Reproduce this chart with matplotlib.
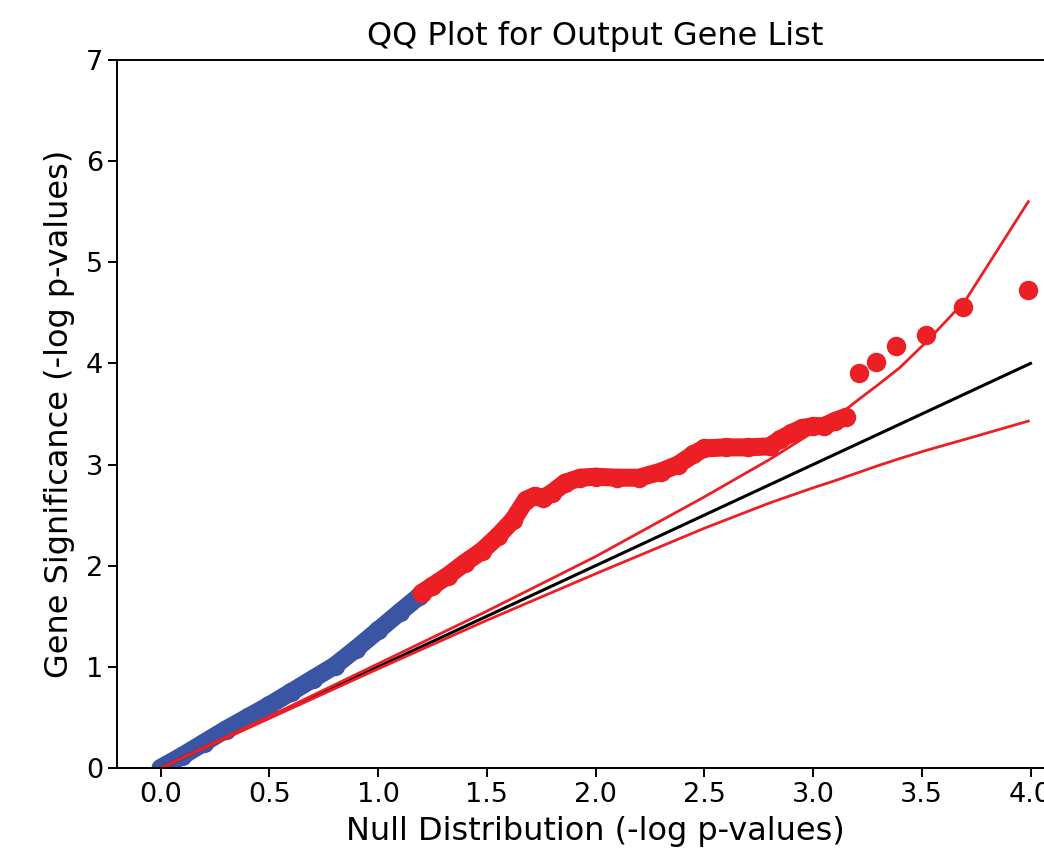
import matplotlib
matplotlib.use("Agg")
import matplotlib.pyplot as plt

blue_x = [0.0, 0.1, 0.2, 0.3, 0.4, 0.5, 0.6, 0.7, 0.8, 0.9, 1.0, 1.1, 1.19]
blue_y = [0.0, 0.12, 0.25, 0.38, 0.50, 0.62, 0.75, 0.88, 1.01, 1.18, 1.36, 1.54, 1.70]

red_x = [1.20, 1.25, 1.32, 1.40, 1.48, 1.55, 1.62, 1.68, 1.72, 1.76, 1.80, 1.86, 1.93,
         2.00, 2.10, 2.20, 2.30, 2.38, 2.45, 2.50, 2.60, 2.70, 2.80, 2.85, 2.90, 2.95,
         3.00, 3.05, 3.10, 3.15]
red_y = [1.73, 1.80, 1.90, 2.03, 2.15, 2.29, 2.45, 2.65, 2.69, 2.67, 2.72, 2.82, 2.87,
         2.88, 2.87, 2.87, 2.93, 3.00, 3.10, 3.16, 3.17, 3.17, 3.18, 3.25, 3.31, 3.36,
         3.38, 3.38, 3.43, 3.47]

top_x = [3.21, 3.29, 3.38, 3.52, 3.69, 3.99]
top_y = [3.91, 4.01, 4.17, 4.28, 4.56, 4.73]

# null line and confidence band
null_x = [0.0, 4.0]
null_y = [0.0, 4.0]
ci_x = [0.0, 0.5, 1.0, 1.5, 2.0, 2.5, 2.8, 3.0, 3.1, 3.22, 3.3, 3.4, 3.52, 3.7, 3.99]
ci_upper = [0.0, 0.51, 1.03, 1.55, 2.09, 2.68, 3.05, 3.32, 3.46, 3.66, 3.79, 3.96, 4.21, 4.62, 5.60]
ci_lower = [0.0, 0.49, 0.98, 1.46, 1.92, 2.37, 2.62, 2.77, 2.84, 2.93, 2.99, 3.06, 3.14, 3.25, 3.43]

blue = '#3a55a4'
red = '#ec1f25'

fig = plt.figure(figsize=(10.44, 8.63), dpi=100)
ax = fig.add_axes([117 / 1044, 95 / 863, 957 / 1044, 708 / 863])

ax.plot(blue_x, blue_y, '-o', color=blue, lw=13, ms=13, solid_capstyle='round')
ax.plot(red_x, red_y, '-o', color=red, lw=13, ms=13, solid_capstyle='round')
ax.plot(top_x, top_y, 'o', color=red, ms=13, lw=0)

ax.plot(null_x, null_y, color='black', lw=2.2)
ax.plot(ci_x, ci_upper, color=red, lw=2)
ax.plot(ci_x, ci_lower, color=red, lw=2)

ax.set_xlim(-0.2, 4.2)
ax.set_ylim(0, 7)
ax.set_xticks([0.0, 0.5, 1.0, 1.5, 2.0, 2.5, 3.0, 3.5, 4.0])
ax.tick_params(labelsize=19.5, length=6.5, width=1.4)
for s in ax.spines.values():
    s.set_linewidth(1.4)

ax.set_title('QQ Plot for Output Gene List', fontsize=23, pad=11)
ax.set_xlabel('Null Distribution (-log p-values)', fontsize=23, labelpad=6)
ax.set_ylabel('Gene Significance (-log p-values)', fontsize=23, labelpad=8)

fig.savefig('out.png', dpi=100)
